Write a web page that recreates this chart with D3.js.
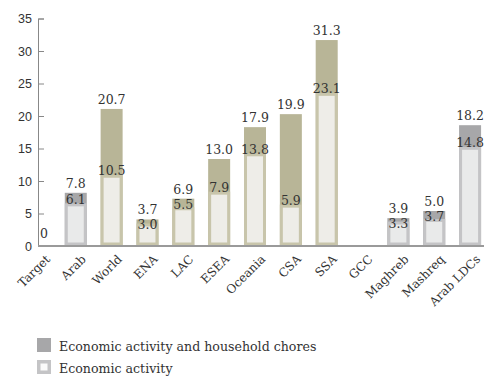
<!DOCTYPE html>
<html><head><meta charset="utf-8">
<script src="https://cdn.jsdelivr.net/npm/d3@7"></script>
<style>
html,body{margin:0;padding:0;background:#fff;}
svg{display:block;}
</style></head>
<body>
<svg id="chart" width="484" height="376"></svg>
<script>
const categories = ["Target","Arab","World","ENA","LAC","ESEA","Oceania","CSA","SSA","GCC","Maghreb","Mashreq","Arab LDCs"];
const totalValues = [0, 7.8, 20.7, 3.7, 6.9, 13.0, 17.9, 19.9, 31.3, null, 3.9, 5.0, 18.2];
const econValues = [null, 6.1, 10.5, 3.0, 5.5, 7.9, 13.8, 5.9, 23.1, null, 3.3, 3.7, 14.8];
const arabGroup = ["Arab","Maghreb","Mashreq","Arab LDCs"];
const yTicks = [0,5,10,15,20,25,30,35];
const legendLabels = ["Economic activity and household chores","Economic activity"];

const palette = {
  arab: {outer:"#a7a7a9", border:"#c4c4c6", inner:"#e9eaea"},
  world:{outer:"#b8b597", border:"#c8c5ab", inner:"#eeede8"}
};
const serif = "'DejaVu Serif', serif";
const sans = "'Liberation Sans', Arial, sans-serif";

const svg = d3.select("#chart");
const x = d3.scalePoint().domain(categories).range([22, 488]).padding(0.5);
const y = d3.scaleLinear().domain([0,35]).range([246, 18.5]);
const barW = 22;

// y axis
const yAxis = d3.axisLeft(y).tickValues(yTicks).tickSize(-6).tickSizeOuter(-6).tickPadding(6);
const gy = svg.append("g").attr("transform","translate(38,0)").call(yAxis);
gy.select(".domain").attr("stroke","#888");
gy.selectAll(".tick line").attr("stroke","#888");
gy.selectAll(".tick text").attr("font-family",sans).attr("font-size",12.5).attr("fill","#333");

const data = categories.map((c,i)=>({cat:c,total:totalValues[i],econ:econValues[i],grp:arabGroup.includes(c)?"arab":"world"}));

const g = svg.append("g");
// outer bars
data.filter(d=>d.total!=null && d.total>0).forEach(d=>{
  const cx = x(d.cat), col = palette[d.grp];
  g.append("rect").attr("x",cx-barW/2).attr("width",barW)
    .attr("y",y(d.total)-2.5).attr("height",y(0)-y(d.total)+2.5).attr("fill",col.outer);
  if(d.econ!=null){
    g.append("rect").attr("x",cx-barW/2).attr("width",barW)
      .attr("y",y(d.econ)-3).attr("height",y(0)-y(d.econ)+3).attr("fill",col.border);
    g.append("rect").attr("x",cx-barW/2+3).attr("width",barW-6)
      .attr("y",y(d.econ)).attr("height",Math.max(0,y(0)-y(d.econ)-3.5)).attr("fill",col.inner);
  }
});

// x axis line
svg.append("line").attr("x1",38).attr("x2",484).attr("y1",y(0)).attr("y2",y(0))
  .attr("stroke","#9a9a9a").attr("stroke-width",2);

// value labels
data.forEach(d=>{
  if(d.total==null) return;
  const tc = y(d.total) - 12;
  g.append("text").attr("x",x(d.cat) + (d.total===0?4:0)).attr("y",tc).attr("dy","0.35em")
    .attr("text-anchor","middle").attr("font-family",serif).attr("font-size",12.5).attr("fill","#333")
    .text(d.total===0?"0":d.total.toFixed(1));
  if(d.econ!=null){
    const ec = Math.max(y(d.econ)-7, tc+15);
    g.append("text").attr("x",x(d.cat)).attr("y",ec).attr("dy","0.35em")
      .attr("text-anchor","middle").attr("font-family",serif).attr("font-size",12.5).attr("fill","#333")
      .text(d.econ.toFixed(1));
  }
});

// x labels
categories.forEach(c=>{
  const cx = x(c)+8, cy = 257;
  svg.append("text").attr("transform",`translate(${cx},${cy}) rotate(-45)`)
    .attr("text-anchor","end").attr("dy","0.35em")
    .attr("font-family",serif).attr("font-size",12).attr("fill","#333").text(c);
});

// legend
const lg = svg.append("g");
lg.append("rect").attr("x",37).attr("y",338).attr("width",14).attr("height",14).attr("fill",palette.arab.outer);
lg.append("rect").attr("x",37).attr("y",360).attr("width",14).attr("height",14).attr("fill",palette.arab.border);
lg.append("rect").attr("x",40.5).attr("y",363.5).attr("width",7).attr("height",7).attr("fill","#fafafa");
legendLabels.forEach((t,i)=>{
  lg.append("text").attr("x",59).attr("y",351+i*22).attr("font-family",serif).attr("font-size",12.6)
    .attr("fill","#333").text(t);
});
</script>
</body></html>
